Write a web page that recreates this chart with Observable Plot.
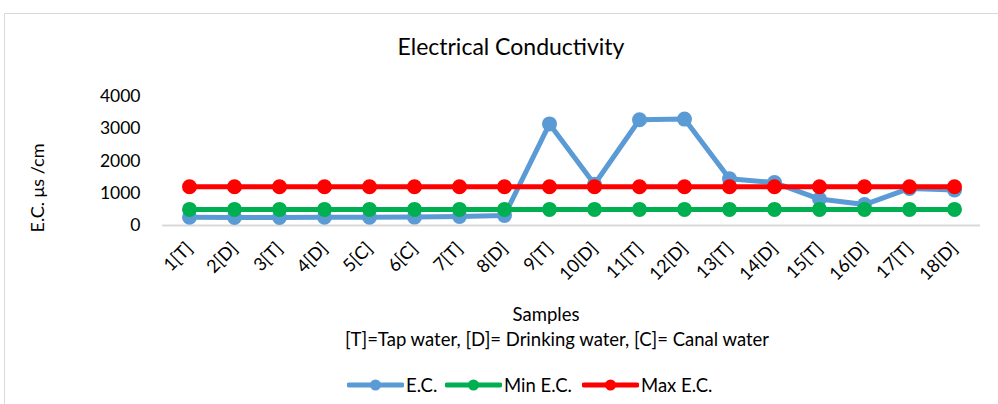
<!DOCTYPE html>
<html>
<head>
<meta charset="utf-8">
<script src="https://cdn.jsdelivr.net/npm/d3@7"></script>
<script src="https://cdn.jsdelivr.net/npm/@observablehq/plot@0.6"></script>
<style>
  html, body { margin: 0; padding: 0; background: #fff; width: 998px; height: 404px; overflow: hidden; font-family: Lato, "Open Sans", sans-serif; color: #000; }
  #frame { position: absolute; left: 4px; top: 13px; width: 1100px; height: 500px; border: 1px solid #d9d9d9; box-sizing: border-box; }
  .txt { position: absolute; white-space: nowrap; transform: translateX(-50%); line-height: 1; }
  #ylabel { position: absolute; left: 37px; top: 188px; font-size: 18px; white-space: nowrap; line-height: 1; transform: translate(-50%, -50%) rotate(-90deg); }
  #chart { position: absolute; left: 0; top: 70px; }
  #legend { position: absolute; left: 0; top: 375px; width: 998px; height: 20px; }
  .item { position: absolute; top: 0; display: flex; align-items: center; font-size: 18.5px; height: 20px; }
</style>
</head>
<body>
<div id="frame"></div>
<div class="txt" id="title" style="left:511px; top:35px; font-size:23px;">Electrical Conductivity</div>
<div id="ylabel">E.C. μs /cm</div>
<div id="chart"></div>
<div class="txt" style="left:546px; top:305px; font-size:18.5px;">Samples</div>
<div class="txt" style="left:557px; top:330px; font-size:18.5px;">[T]=Tap water, [D]= Drinking water, [C]= Canal water</div>
<div id="legend"></div>
<script>
const samples = ["1[T]","2[D]","3[T]","4[D]","5[C]","6[C]","7[T]","8[D]","9[T]","10[D]","11[T]","12[D]","13[T]","14[D]","15[T]","16[D]","17[T]","18[D]"];
const ecValues  = [255, 250, 250, 255, 255, 260, 280, 310, 3150, 1280, 3280, 3300, 1450, 1330, 820, 650, 1150, 1100];
const minValues = [500, 500, 500, 500, 500, 500, 500, 500, 500, 500, 500, 500, 500, 500, 500, 500, 500, 500];
const maxValues = [1200, 1200, 1200, 1200, 1200, 1200, 1200, 1200, 1200, 1200, 1200, 1200, 1200, 1200, 1200, 1200, 1200, 1200];
const seriesNames = ["E.C.", "Min E.C.", "Max E.C."];
const seriesColors = ["#5b9bd5", "#00b050", "#ff0000"];
const yTicks = [0, 1000, 2000, 3000, 4000];

const seriesValues = [ecValues, minValues, maxValues];
const data = seriesNames.flatMap((name, si) => samples.map((s, i) => ({sample: s, value: seriesValues[si][i], series: name})));

const marks = [
  Plot.ruleY([0], {stroke: "#d9d9d9", strokeWidth: 2}),
  Plot.axisX({tickRotate: -45, tickSize: 0, tickPadding: 20, fontSize: 18, label: null}),
  Plot.axisY({ticks: yTicks, tickSize: 0, tickPadding: 22, fontSize: 17.5, tickFormat: d => String(d), label: null})
];
seriesNames.forEach((name, si) => {
  const d = data.filter(r => r.series === name);
  marks.push(Plot.line(d, {x: "sample", y: "value", stroke: seriesColors[si], strokeWidth: 5}));
  marks.push(Plot.dot(d, {x: "sample", y: "value", fill: seriesColors[si], r: 7.5, stroke: "none"}));
});

const chart = Plot.plot({
  width: 998, height: 230,
  marginLeft: 162, marginRight: 18, marginTop: 26, marginBottom: 75,
  style: {fontFamily: "Lato, 'Open Sans', sans-serif", fontSize: "17px", color: "#000", background: "transparent"},
  x: {type: "point", domain: samples, padding: 0.5},
  y: {domain: [0, 4000]},
  marks
});
document.getElementById("chart").appendChild(chart);

// legend
const legend = document.getElementById("legend");
const legendPos = [347, 445, 582];
seriesNames.forEach((name, si) => {
  const item = document.createElement("div");
  item.className = "item";
  item.style.left = legendPos[si] + "px";
  item.innerHTML = `<svg width="57" height="20"><line x1="2" y1="10" x2="55" y2="10" stroke="${seriesColors[si]}" stroke-width="5" stroke-linecap="round"/><circle cx="28.5" cy="10" r="5.5" fill="${seriesColors[si]}"/></svg><span style="margin-left:2px">${name}</span>`;
  legend.appendChild(item);
});
</script>
</body>
</html>
